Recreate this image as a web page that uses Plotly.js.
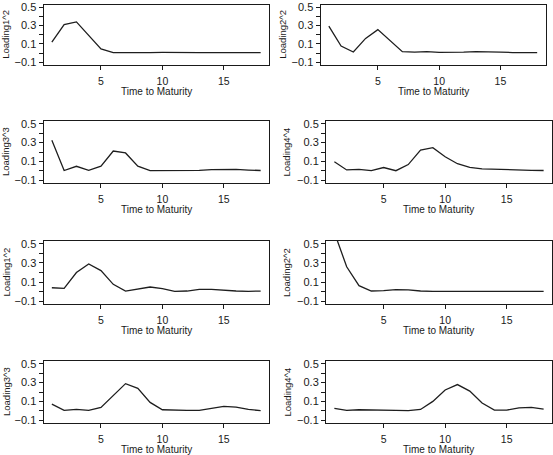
<!DOCTYPE html>
<html>
<head>
<meta charset="utf-8">
<script src="https://cdn.plot.ly/plotly-3.0.1.min.js"></script>
<style>
html,body{margin:0;padding:0;background:#fff;}
#chart{width:553px;height:455px;}
</style>
</head>
<body>
<div id="chart"></div>
<script>
// Time to maturity (x values)
const maturity = [1,2,3,4,5,6,7,8,9,10,11,12,13,14,15,16,17,18];

// Squared loadings (panel order: row by row, left then right)
const loading1a = [0.12, 0.31, 0.34, 0.19, 0.045, 0.005, 0.008, 0.007, 0.006, 0.008, 0.01, 0.008, 0.006, 0.005, 0.005, 0.005, 0.005, 0.005];
const loading2a = [0.295, 0.076, 0.012, 0.16, 0.256, 0.135, 0.015, 0.01, 0.016, 0.008, 0.006, 0.01, 0.015, 0.015, 0.01, 0.006, 0.004, 0.004];
const loading3a = [0.325, 0.003, 0.048, 0.004, 0.05, 0.21, 0.19, 0.05, 0.002, 0.002, 0.002, 0.0, 0.005, 0.012, 0.017, 0.014, 0.008, 0.003];
const loading4a = [0.096, 0.009, 0.016, 0.002, 0.035, 0.001, 0.066, 0.221, 0.246, 0.15, 0.075, 0.036, 0.021, 0.015, 0.01, 0.008, 0.005, 0.003];
const loading1b = [0.04, 0.034, 0.2, 0.29, 0.22, 0.076, 0.006, 0.027, 0.048, 0.03, 0.003, 0.006, 0.024, 0.024, 0.013, 0.006, 0.003, 0.005];
const loading2b = [0.62, 0.26, 0.062, 0.006, 0.01, 0.02, 0.017, 0.006, 0.003, 0.003, 0.003, 0.003, 0.003, 0.003, 0.003, 0.003, 0.003, 0.003];
const loading3b = [0.071, 0.004, 0.014, 0.004, 0.036, 0.164, 0.289, 0.239, 0.089, 0.011, 0.004, 0.004, 0.004, 0.025, 0.046, 0.039, 0.014, 0.002];
const loading4b = [0.025, 0.004, 0.011, 0.007, 0.001, 0.004, 0.001, 0.014, 0.1, 0.221, 0.279, 0.21, 0.082, 0.007, 0.007, 0.032, 0.036, 0.018];

const seriesList = [loading1a, loading2a, loading3a, loading4a, loading1b, loading2b, loading3b, loading4b];
const yTitles = ["Loading1^2", "Loading2^2", "Loading3^3", "Loading4^4", "Loading1^2", "Loading2^2", "Loading3^3", "Loading4^4"];
const xTitle = "Time to Maturity";
const xTickVals = [5, 10, 15];
const yTickVals = [-0.1, 0, 0.1, 0.2, 0.3, 0.4, 0.5];
const yTickText = ["\u22120.1", "", "0.1", "", "0.3", "", "0.5"];

// Layout geometry (pixels)
const W = 553, H = 455;
const boxes = [
  {l: 43.5, r: 269, t: 4.5, b: 65, tx: 6},
  {l: 320.5, r: 545.5, t: 4.5, b: 65, tx: 283},
  {l: 43.5, r: 269, t: 121, b: 183, tx: 6},
  {l: 326, r: 552, t: 121, b: 183, tx: 286.5},
  {l: 43.5, r: 269, t: 241, b: 304, tx: 6},
  {l: 326, r: 552, t: 241, b: 304, tx: 286.5},
  {l: 43.5, r: 269, t: 361, b: 423, tx: 6},
  {l: 326, r: 552, t: 361, b: 423, tx: 286.5}
];

const FONT = "Liberation Sans, Arial, sans-serif";
const data = [];
const layout = {
  width: W, height: H,
  margin: {l: 0, r: 0, t: 0, b: 0},
  paper_bgcolor: "#fff", plot_bgcolor: "#fff",
  showlegend: false,
  font: {family: FONT, size: 10, color: "#1a1a1a"},
  annotations: []
};

seriesList.forEach((vals, i) => {
  const n = i + 1;
  const bx = boxes[i];
  const xa = "xaxis" + (n === 1 ? "" : n);
  const ya = "yaxis" + (n === 1 ? "" : n);
  data.push({
    x: maturity, y: vals, type: "scatter", mode: "lines",
    xaxis: "x" + (n === 1 ? "" : n), yaxis: "y" + (n === 1 ? "" : n),
    line: {color: "#1e1e1e", width: 1.3}, hoverinfo: "skip"
  });
  layout[xa] = {
    domain: [bx.l / W, bx.r / W], anchor: "y" + (n === 1 ? "" : n),
    range: [0.32, 18.68], tickvals: xTickVals, ticks: "outside", ticklen: 4,
    ticklabelstandoff: 2,
    tickcolor: "#1a1a1a", showline: true, mirror: true, linecolor: "#1a1a1a", linewidth: 1,
    showgrid: false, zeroline: false, tickfont: {family: FONT, size: 10.5, color: "#1a1a1a"}
  };
  layout[ya] = {
    domain: [1 - bx.b / H, 1 - bx.t / H], anchor: "x" + (n === 1 ? "" : n),
    range: [-0.13, 0.53], tickvals: yTickVals, ticktext: yTickText, ticks: "outside", ticklen: 4,
    tickcolor: "#1a1a1a", showline: true, mirror: true, linecolor: "#1a1a1a", linewidth: 1,
    showgrid: false, zeroline: false, tickfont: {family: FONT, size: 11, color: "#1a1a1a"}
  };
  layout.annotations.push({
    text: xTitle, xref: "paper", yref: "paper", showarrow: false,
    x: (bx.l + bx.r) / 2 / W, y: 1 - (bx.b + 19) / H, xanchor: "center", yanchor: "top",
    font: {family: FONT, size: 10, color: "#1a1a1a"}
  });
  layout.annotations.push({
    text: yTitles[i], xref: "paper", yref: "paper", showarrow: false, textangle: -90,
    x: bx.tx / W, y: 1 - (bx.t + bx.b) / 2 / H, xanchor: "center", yanchor: "middle",
    font: {family: FONT, size: 9.5, color: "#1a1a1a"}
  });
});

Plotly.newPlot("chart", data, layout, {staticPlot: true, displayModeBar: false});
</script>
</body>
</html>
